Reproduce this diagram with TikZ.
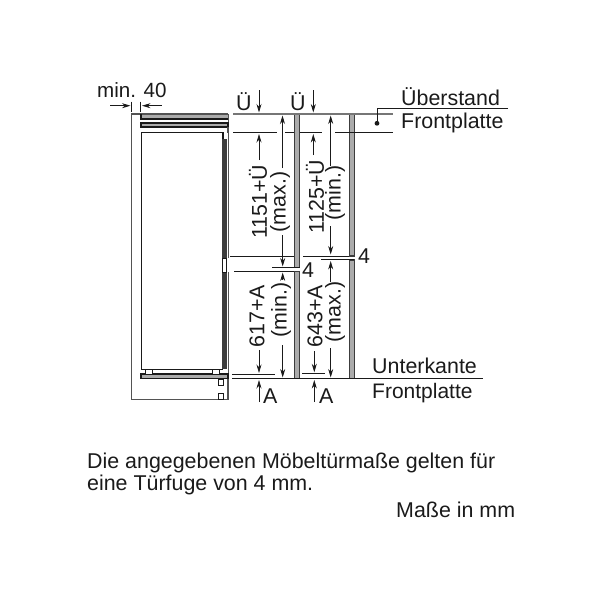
\documentclass[tikz,border=0pt]{standalone}
\usepackage{fontspec}
\setmainfont{Liberation Sans}
\usetikzlibrary{arrows.meta}
\definecolor{ink}{HTML}{1A1A1A}
\definecolor{panelgray}{HTML}{ABABAB}
\tikzset{
  lbl/.style={inner sep=0pt,text=ink,font=\fontsize{21.4}{24}\selectfont},
  txt/.style={lbl,anchor=base west},
  rot/.style={lbl,rotate=90,anchor=center},
  thin line/.style={draw=ink,line width=0.9pt},
  wall/.style={draw=ink!75,line width=1.25pt},
  dim/.style={draw=ink,line width=0.8pt,-{Stealth[length=8.5pt,width=5pt]}},
  panel/.style={draw=ink!85,fill=panelgray,line width=1.1pt},
  plate/.style={fill=panelgray},
}
\begin{document}
\begin{tikzpicture}[x=1pt,y=-1pt]
\useasboundingbox (0,0) rectangle (600,600);
% cabinet
\draw[wall] (228,114) -- (131.7,114) -- (131.7,399.3) -- (228,399.3) -- (228,379);
\draw[wall,line width=0.8pt] (228,114) -- (228,258);
\draw[wall,line width=0.8pt] (228,272) -- (228,374);
\draw[ink,line width=1pt] (140.7,101.7) -- (140.7,111.7);
\draw[ink,line width=1pt] (131.7,101.7) -- (131.7,111.7);
\fill[plate] (141,114.5) rectangle (228,118.5);
\draw[ink,line width=1.1pt] (141,114) -- (141,119) -- (228,119);
\fill[plate] (141,123) rectangle (228,127);
\draw[ink,line width=1.1pt] (141,123) rectangle (228,127);
\draw[wall] (228,127) -- (228,132.5);
\draw[ink,line width=1.3pt] (223,139) -- (223,132.5) -- (141.5,132.5) -- (141.5,369.3) -- (223,369.3);
\fill[ink!85] (222.3,139) rectangle (226.7,258);
\fill[ink!85] (222.3,272) rectangle (226.7,369.3);
\draw[ink,line width=0.6pt] (226.7,258) rectangle (222.3,272);
\fill[plate] (141,374) rectangle (228,378.7);
\draw[ink,line width=1.1pt] (141,374) rectangle (228,378.7);
\draw[ink,line width=0.6pt,fill=white] (145,369.5) rectangle (152,374);
\draw[ink,line width=0.6pt,fill=white] (212,369.5) rectangle (219,374);
\draw[ink,line width=1pt,fill=white] (218.3,379) rectangle (223.5,385);
\draw[ink,line width=1pt,fill=white] (218.3,393.5) rectangle (223.5,399.3);
% door panels
\draw[panel] (294.2,114) rectangle (299.2,267.7);
\draw[panel] (294.2,271.6) rectangle (299.2,378.7);
\draw[panel] (349.3,114) rectangle (354.3,256);
\draw[panel] (349.3,260) rectangle (354.3,378.7);
% reference lines
\draw[draw=ink!60,line width=1.6pt] (233,114) -- (393,114);
\draw[thin line] (233,132.7) -- (277,132.7);
\draw[thin line] (285,132.7) -- (294,132.7);
\draw[thin line] (299.5,132.7) -- (322,132.7);
\draw[thin line] (335,132.7) -- (393,132.7);
\draw[thin line] (230,256) -- (294,256);
\draw[thin line] (303,256) -- (349.3,256);
\draw[thin line] (234,271) -- (294,271);
\draw[thin line,line width=1.1pt] (272,267.7) -- (300,267.7);
\draw[thin line] (321,259.5) -- (354,259.5);
\draw[thin line] (232,374.3) -- (275,374.3);
\draw[thin line] (302,373.5) -- (325,373.5);
\draw[thin line] (232,378.7) -- (482.7,378.7);
\draw[thin line] (508,108.3) -- (377,108.3) -- (377,123.3);
\fill[ink] (377,123.3) circle (2.4);
% dimension arrows
\draw[dim] (110,105.7) -- (130.5,105.7);
\draw[dim] (161.7,105.7) -- (142,105.7);
\draw[dim] (259,90) -- (259,112.5);
\draw[dim] (313.3,90) -- (313.3,112.5);
\draw[dim] (259,160) -- (259,134);
\draw[dim] (313.3,155) -- (313.3,134);
\draw[dim] (282.5,168) -- (282.5,115.5);
\draw[dim] (330.7,166) -- (330.7,115.5);
\draw[dim] (282.7,235) -- (282.7,266.5);
\draw[dim] (282.7,280) -- (282.7,272.5);
\draw[dim] (330.7,226) -- (330.7,254.5);
\draw[dim] (330.7,282) -- (330.7,261);
\draw[dim] (259,350) -- (259,373);
\draw[dim] (259,402) -- (259,380);
\draw[dim] (282.7,345) -- (282.7,377.5);
\draw[dim] (314.3,351) -- (314.3,372.3);
\draw[dim] (314.3,402) -- (314.3,380);
\draw[dim] (330.7,348) -- (330.7,377.5);
% labels
\node[txt,font=\fontsize{20.6}{24}\selectfont] (minl) at (97,97) {min. 40};
\node[txt] (ue1) at (236,110) {Ü};
\node[txt] (ue2) at (290,110) {Ü};
\node[txt] (ub) at (401,105) {Überstand};
\node[txt] (fp1) at (401,128) {Frontplatte};
\node[txt] (uk) at (372,373) {Unterkante};
\node[txt,font=\fontsize{21}{24}\selectfont] (fp2) at (372,398) {Frontplatte};
\node[rot] (a) at (258,202) {1151+Ü};
\node[rot] (b) at (280,202) {(max.)};
\node[rot] (c) at (315,197) {1125+Ü};
\node[rot] (d) at (335,193) {(min.)};
\node[rot] (e) at (257,316) {617+A};
\node[rot] (f) at (281,310) {(min.)};
\node[rot] (g) at (315,316) {643+A};
\node[rot] (h) at (335,312) {(max.)};
\node[txt] (f1) at (302,277) {4};
\node[txt] (f2) at (358,263) {4};
\node[txt] (a1) at (263,403) {A};
\node[txt] (a2) at (319,403) {A};
\node[txt] (t1) at (87,468) {Die angegebenen Möbeltürmaße gelten für};
\node[txt] (t2) at (87,490) {eine Türfuge von 4 mm.};
\node[txt] (t3) at (396,517) {Maße in mm};
\end{tikzpicture}
\end{document}
